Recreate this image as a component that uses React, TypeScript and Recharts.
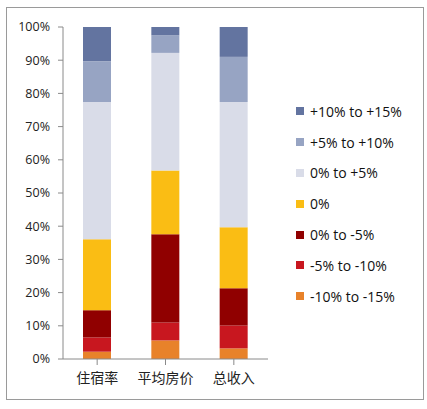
import React from 'react';
import { BarChart, Bar, XAxis, YAxis } from 'recharts';

const categories = ['住宿率', '平均房价', '总收入'];

// stacked bottom to top, shares in percent
const neg10to15 = [2.2, 5.6, 3.2];
const neg5to10 = [4.3, 5.4, 6.9];
const neg0to5 = [8.2, 26.6, 11.2];
const zero = [21.4, 19.2, 18.4];
const pos0to5 = [41.3, 35.4, 37.7];
const pos5to10 = [12.3, 5.3, 13.6];
const pos10to15 = [10.3, 2.5, 9.0];

const yTicks = [0, 10, 20, 30, 40, 50, 60, 70, 80, 90, 100];

const series = [
  { key: 'n15', name: '-10% to -15%', color: '#E8822A', values: neg10to15 },
  { key: 'n10', name: '-5% to -10%', color: '#C8171F', values: neg5to10 },
  { key: 'n5', name: '0% to -5%', color: '#900000', values: neg0to5 },
  { key: 'z', name: '0%', color: '#FABD14', values: zero },
  { key: 'p5', name: '0% to +5%', color: '#D9DCE8', values: pos0to5 },
  { key: 'p10', name: '+5% to +10%', color: '#97A4C3', values: pos5to10 },
  { key: 'p15', name: '+10% to +15%', color: '#6374A0', values: pos10to15 },
];

const data = categories.map((name, i) => {
  const row: Record<string, any> = { name };
  series.forEach((s) => (row[s.key] = s.values[i]));
  return row;
});

const font = '"Open Sans", "Noto Sans CJK SC", sans-serif';

const LegendBox = () => (
  <div style={{ position: 'absolute', left: 296, top: 96, fontFamily: font, fontSize: 14, color: '#111' }}>
    {[...series].reverse().map((s) => (
      <div key={s.key} style={{ display: 'flex', alignItems: 'center', height: 30.8 }}>
        <span style={{ width: 8, height: 8, background: s.color, marginRight: 6, display: 'inline-block' }} />
        <span>{s.name}</span>
      </div>
    ))}
  </div>
);

export default function App() {
  return (
    <div style={{ position: 'absolute', left: 0, top: 0, width: 427, height: 409, background: '#fff' }}>
      <div
        style={{
          position: 'absolute',
          left: 6,
          top: 7,
          width: 416,
          height: 391,
          border: '1px solid #9a9a9a',
        }}
      />
      <BarChart
        width={427}
        height={409}
        data={data}
        margin={{ top: 27, right: 159, bottom: 0, left: 0 }}
        barSize={28}
      >
        <XAxis
          dataKey="name"
          height={50}
          tickLine={{ stroke: '#8a8a8a' }}
          axisLine={{ stroke: '#8a8a8a' }}
          tickSize={6}
          tickMargin={8}
          tick={{ fill: '#222', fontSize: 14, fontFamily: font }}
        />
        <YAxis
          width={63}
          domain={[0, 100]}
          ticks={yTicks}
          interval={0}
          tickFormatter={(v: number) => `${v}%`}
          tickLine={{ stroke: '#8a8a8a' }}
          axisLine={{ stroke: '#8a8a8a' }}
          tickSize={5}
          tickMargin={8}
          tick={{ fill: '#222', fontSize: 12.5, fontFamily: font }}
        />
        {series.map((s) => (
          <Bar
            key={s.key}
            dataKey={s.key}
            name={s.name}
            stackId="a"
            fill={s.color}
            isAnimationActive={false}
          />
        ))}
      </BarChart>
      <LegendBox />
    </div>
  );
}
